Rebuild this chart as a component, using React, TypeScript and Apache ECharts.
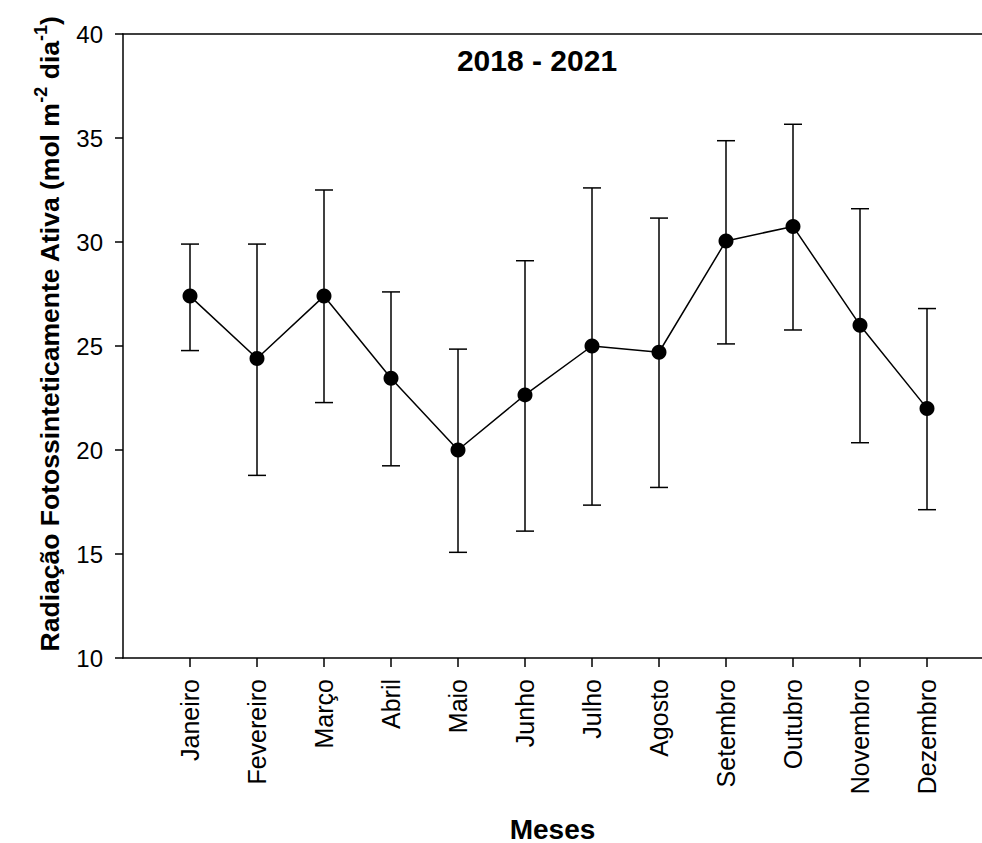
import React, { useEffect, useRef } from "react";
import * as echarts from "echarts";

const months = [
  "Janeiro", "Fevereiro", "Março", "Abril", "Maio", "Junho",
  "Julho", "Agosto", "Setembro", "Outubro", "Novembro", "Dezembro",
];
const meanValues = [27.4, 24.4, 27.4, 23.45, 20.0, 22.65, 25.0, 24.7, 30.05, 30.75, 26.0, 22.0];
const upperValues = [29.9, 29.9, 32.5, 27.6, 24.85, 29.1, 32.6, 31.15, 34.87, 35.66, 31.6, 26.8];
const lowerValues = [24.78, 18.78, 22.28, 19.24, 15.08, 16.1, 17.35, 18.2, 25.1, 25.77, 20.35, 17.13];
const yTicks = [10, 15, 20, 25, 30, 35, 40];
const titleText = "2018 - 2021";
const xAxisTitle = "Meses";

const FONT = "'Liberation Sans', Arial, sans-serif";

export default function App() {
  const ref = useRef<HTMLDivElement>(null);
  useEffect(() => {
    if (!ref.current) return;
    const chart = echarts.init(ref.current, undefined, { renderer: "svg" });
    const positions = months.map((_, i) => i + 1);
    const lineData = positions.map((p, i) => [p, meanValues[i]]);
    const errData = positions.map((p, i) => [p, lowerValues[i], upperValues[i]]);
    const gridLeft = 123;
    const gridWidth = 859;
    const unit = 67;
    const option: any = {
      animation: false,
      backgroundColor: "#ffffff",
      textStyle: { fontFamily: FONT },
      grid: {
        left: gridLeft,
        top: 34,
        width: gridWidth,
        height: 624,
        containLabel: false,
        outerBoundsMode: "none",
      },
      title: {
        text: titleText,
        left: 532,
        top: 40,
        textAlign: "center",
        textStyle: { fontFamily: FONT, fontSize: 30, fontWeight: "bold", color: "#000" },
      },
      xAxis: [
        {
          type: "value",
          min: 0,
          max: gridWidth / unit,
          interval: 1,
          position: "bottom",
          splitLine: { show: false },
          axisLine: { show: true, onZero: false, lineStyle: { color: "#000", width: 1.5 } },
          axisTick: { show: true, length: 9, customValues: positions, lineStyle: { color: "#000", width: 1.5 } },
          axisLabel: {
            show: true,
            customValues: positions,
            rotate: 90,
            margin: 21,
            fontSize: 25,
            fontFamily: FONT,
            color: "#000",
            formatter: (v: number) => months[Math.round(v) - 1] ?? "",
          },
          name: xAxisTitle,
          nameLocation: "middle",
          nameGap: 157,
          nameTextStyle: { fontFamily: FONT, fontSize: 28, fontWeight: "bold", color: "#000" },
        },
        {
          type: "value",
          min: 0,
          max: gridWidth / unit,
          position: "top",
          splitLine: { show: false },
          axisLine: { show: true, onZero: false, lineStyle: { color: "#000", width: 1.5 } },
          axisTick: { show: false },
          axisLabel: { show: false },
        },
      ],
      yAxis: [
        {
          type: "value",
          min: yTicks[0],
          max: yTicks[yTicks.length - 1],
          interval: 5,
          splitLine: { show: false },
          axisLine: { show: true, onZero: false, lineStyle: { color: "#000", width: 1.5 } },
          axisTick: { show: true, length: 8, lineStyle: { color: "#000", width: 1.5 } },
          axisLabel: { margin: 20, fontSize: 24, fontFamily: FONT, color: "#000" },
        },
      ],
      graphic: [
        {
          type: "text",
          x: 50,
          y: 334,
          rotation: Math.PI / 2,
          style: {
            text: "{a|Radiação Fotossinteticamente Ativa (mol m}{s|-2}{a| dia}{s|-1}{a|)}",
            align: "center",
            verticalAlign: "middle",
            fill: "#000",
            rich: {
              a: { fontFamily: FONT, fontSize: 26.5, fontWeight: "bold", lineHeight: 36, verticalAlign: "middle", fill: "#000" },
              s: { fontFamily: FONT, fontSize: 18, fontWeight: "bold", lineHeight: 14, verticalAlign: "top", fill: "#000" },
            },
          },
        },
      ],
      series: [
        {
          type: "custom",
          xAxisIndex: 0,
          yAxisIndex: 0,
          z: 2,
          data: errData,
          renderItem: (params: any, api: any) => {
            const x = api.value(0);
            const lo = api.value(1);
            const hi = api.value(2);
            const pHi = api.coord([x, hi]);
            const pLo = api.coord([x, lo]);
            const half = 9;
            const st = { stroke: "#000", lineWidth: 1.5 };
            return {
              type: "group",
              children: [
                { type: "line", shape: { x1: pHi[0], y1: pHi[1], x2: pLo[0], y2: pLo[1] }, style: st },
                { type: "line", shape: { x1: pHi[0] - half, y1: pHi[1], x2: pHi[0] + half, y2: pHi[1] }, style: st },
                { type: "line", shape: { x1: pLo[0] - half, y1: pLo[1], x2: pLo[0] + half, y2: pLo[1] }, style: st },
              ],
            };
          },
        },
        {
          type: "line",
          xAxisIndex: 0,
          yAxisIndex: 0,
          z: 3,
          data: lineData,
          symbol: "circle",
          symbolSize: 15,
          itemStyle: { color: "#000" },
          lineStyle: { color: "#000", width: 1.5 },
        },
      ],
    };
    chart.setOption(option);
    return () => chart.dispose();
  }, []);
  return (
    <div
      ref={ref}
      style={{ position: "absolute", left: 0, top: 0, width: 982, height: 843, background: "#fff" }}
    />
  );
}
